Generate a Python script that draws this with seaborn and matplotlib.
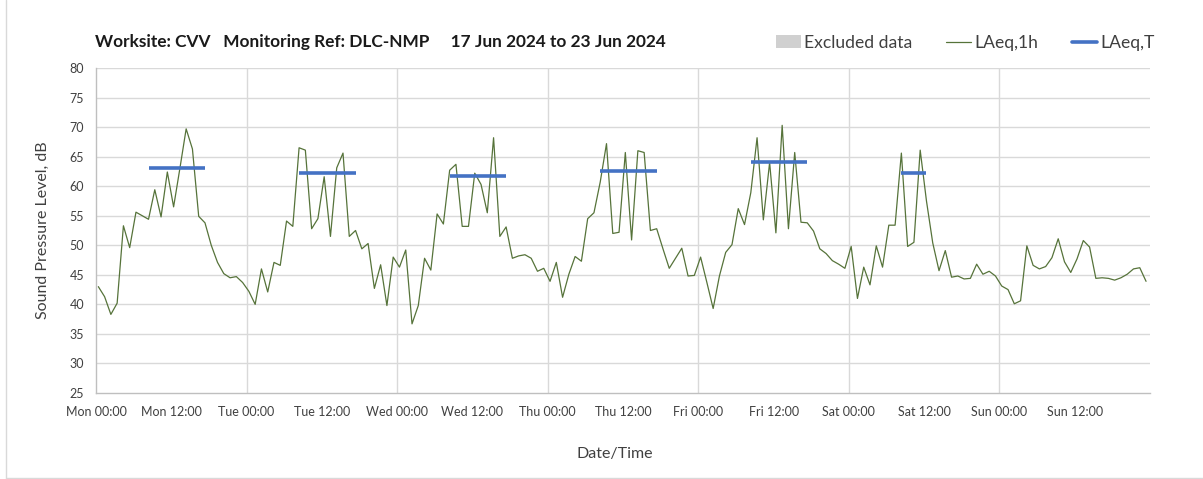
import numpy as np
import pandas as pd
import matplotlib
matplotlib.use('Agg')
import matplotlib.pyplot as plt
import seaborn as sns
from matplotlib.patches import Patch
from matplotlib.lines import Line2D

# hourly LAeq,1h values, one list per day (00:00 .. 23:00)
mon = [43.0, 41.3, 38.3, 40.2, 53.3, 49.6, 55.6, 55.0, 54.4, 59.4, 54.8, 62.4,
       56.5, 63.0, 69.7, 66.3, 54.9, 53.8, 50.0, 47.1, 45.2, 44.5, 44.7, 43.7]
tue = [42.2, 40.0, 46.0, 42.1, 47.1, 46.6, 54.1, 53.2, 66.5, 66.1, 52.8, 54.5,
       61.6, 51.5, 63.1, 65.6, 51.5, 52.5, 49.4, 50.3, 42.7, 46.7, 39.8, 48.0]
wed = [46.3, 49.2, 36.7, 39.8, 47.8, 45.8, 55.3, 53.6, 62.7, 63.7, 53.2, 53.2,
       62.2, 60.3, 55.5, 68.2, 51.5, 53.1, 47.8, 48.2, 48.4, 47.8, 45.6, 46.1]
thu = [43.9, 47.1, 41.2, 45.1, 48.1, 47.3, 54.5, 55.5, 60.7, 67.2, 52.0, 52.2,
       65.7, 50.9, 66.0, 65.7, 52.5, 52.8, 49.4, 46.1, 47.8, 49.5, 44.8, 44.9]
fri = [48.0, 43.7, 39.3, 44.8, 48.8, 50.1, 56.2, 53.5, 58.9, 68.2, 54.3, 64.0,
       52.1, 70.3, 52.8, 65.7, 53.9, 53.8, 52.4, 49.4, 48.6, 47.4, 46.8, 46.1]
sat = [49.8, 41.0, 46.3, 43.3, 49.9, 46.3, 53.4, 53.4, 65.6, 49.8, 50.5, 66.1,
       57.5, 50.4, 45.7, 49.1, 44.6, 44.8, 44.3, 44.4, 46.8, 45.1, 45.6, 44.8]
sun = [43.1, 42.5, 40.1, 40.6, 49.9, 46.6, 46.0, 46.4, 47.9, 51.1, 47.2, 45.4,
       47.7, 50.8, 49.7, 44.4, 44.5, 44.4, 44.1, 44.5, 45.1, 46.0, 46.2, 43.9]

# LAeq,T per daytime period (first and last hourly sample of each period)
laeq_t = [63.0, 62.3, 61.7, 62.6, 64.1, 62.3]
t_day = [0, 1, 2, 3, 4, 5]
t_first_hour = [8, 8, 8, 8, 8, 8]
t_last_hour = [17, 17, 17, 17, 17, 12]

tick_labels = ['Mon 00:00', 'Mon 12:00', 'Tue 00:00', 'Tue 12:00', 'Wed 00:00',
               'Wed 12:00', 'Thu 00:00', 'Thu 12:00', 'Fri 00:00', 'Fri 12:00',
               'Sat 00:00', 'Sat 12:00', 'Sun 00:00', 'Sun 12:00']

SAMPLE_SHIFT = 0.37  # samples sit slightly right of the hour tick

levels = mon + tue + wed + thu + fri + sat + sun
hourly = pd.DataFrame({'t': np.arange(len(levels)) + SAMPLE_SHIFT, 'level': levels})

rows = []
for d, v, a, b in zip(t_day, laeq_t, t_first_hour, t_last_hour):
    for h in (a, b):
        rows.append({'t': d * 24 + h + SAMPLE_SHIFT, 'level': v, 'period': d})
periods = pd.DataFrame(rows)

sns.set_style('white')
plt.rcParams['font.family'] = ['Lato', 'DejaVu Sans']

green = '#56733a'
blue = '#4472c4'
grid_c = '#d9d9d9'
text_c = '#404040'

fig = plt.figure(figsize=(12.03, 4.79), dpi=100)
ax = fig.add_axes([96 / 1203, 1 - 393 / 479, (1150 - 96) / 1203, (393 - 68) / 479])

sns.lineplot(data=hourly, x='t', y='level', color=green, linewidth=0.9, ax=ax)
sns.lineplot(data=periods, x='t', y='level', units='period', estimator=None,
             color=blue, linewidth=2.6, solid_capstyle='butt', ax=ax)

ax.set_xlim(0, 168)
ax.set_ylim(25, 80)
ax.set_yticks(np.arange(25, 81, 5))
ax.set_xticks(np.arange(0, 169, 12))
ax.set_xticklabels(tick_labels + [''])
for y in np.arange(30, 81, 5):
    ax.axhline(y, color=grid_c, linewidth=1, zorder=0)
for x in np.arange(24, 168, 24):
    ax.axvline(x, color=grid_c, linewidth=1, zorder=0)

for s in ['top', 'right']:
    ax.spines[s].set_visible(False)
for s in ['left', 'bottom']:
    ax.spines[s].set_color('#bfbfbf')
    ax.spines[s].set_linewidth(1)
ax.tick_params(axis='both', colors='#bfbfbf', labelcolor=text_c, labelsize=9,
               length=5, width=1, direction='out')
ax.tick_params(axis='x', pad=4)

ax.set_xlabel('Date/Time', fontsize=11.5, color=text_c)
ax.xaxis.set_label_coords(0.492, -0.165)
ax.set_ylabel('Sound Pressure Level, dB', fontsize=11.5, color=text_c, labelpad=14)

fig.text(95 / 1203, 1 - 42 / 479,
         'Worksite: CVV   Monitoring Ref: DLC-NMP     17 Jun 2024 to 23 Jun 2024',
         fontsize=12.4, fontweight='bold', color='#1a1a1a', va='center', ha='left')

handles = [Patch(facecolor='#d0d0d0', edgecolor='none'),
           Line2D([], [], color=green, linewidth=0.9),
           Line2D([], [], color=blue, linewidth=2.6)]
fig.legend(handles, ['Excluded data', 'LAeq,1h', 'LAeq,T'], ncol=3, frameon=False,
           loc='center right', bbox_to_anchor=(1171 / 1203, 1 - 43 / 479),
           fontsize=12.6, handlelength=1.45, handleheight=0.75, columnspacing=1.9,
           handletextpad=0.2, labelcolor=text_c)

fig.add_artist(Line2D([6 / 1203, 6 / 1203], [0.002, 1], color=grid_c, linewidth=1))
fig.add_artist(Line2D([6 / 1203, 1], [0.002, 0.002], color=grid_c, linewidth=1))

fig.savefig('out.png', dpi=100)
